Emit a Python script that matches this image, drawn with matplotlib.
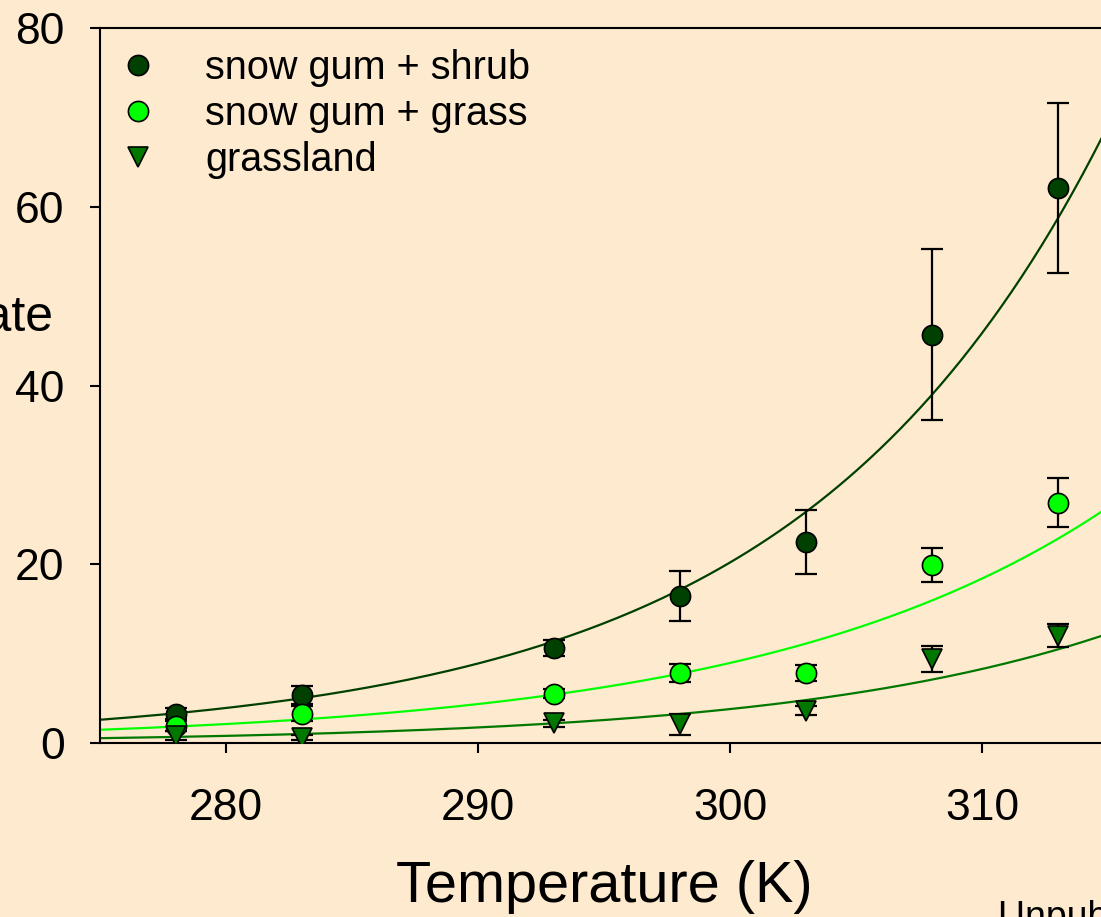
import numpy as np
import matplotlib
matplotlib.use("Agg")
import matplotlib.pyplot as plt
from matplotlib.lines import Line2D

plt.rcParams['font.family'] = ['Liberation Sans', 'DejaVu Sans']

# dados
temperatura = [278, 283, 293, 298, 303, 308, 313]

shrub = [3.3, 5.4, 10.6, 16.5, 22.5, 45.7, 62.1]
shrub_err = [0.6, 1.0, 0.9, 2.8, 3.6, 9.6, 9.5]

grass = [1.9, 3.3, 5.5, 7.8, 7.8, 19.9, 26.9]
grass_err = [0.6, 0.8, 0.5, 1.0, 0.9, 1.9, 2.7]

grassland = [0.8, 0.6, 2.2, 2.1, 3.6, 9.4, 12.0]
grassland_err = [0.5, 0.3, 0.4, 1.2, 0.5, 1.5, 1.3]

# parâmetros dos ajustes exponenciais y = a * exp(b * (T - 275))
ajuste_shrub = (2.6, 0.082)
ajuste_grass = (1.48, 0.072)
ajuste_grassland = (0.54, 0.078)

nomes = ["snow gum + shrub", "snow gum + grass", "grassland"]

# cores
fundo = "#FEEACE"
verde_escuro = "#004000"
verde_claro = "#00FF00"
verde = "#007800"

ms = 14.5

fig = plt.figure(figsize=(11.01, 9.17), dpi=100, facecolor=fundo)
ax = fig.add_axes([100 / 1101, 1 - 743 / 917, 1008 / 1101, 715 / 917])
ax.set_facecolor(fundo)

T = np.linspace(275, 315, 200)
series = [
    (shrub, shrub_err, ajuste_shrub, verde_escuro, verde_escuro, "o"),
    (grass, grass_err, ajuste_grass, verde_claro, verde_claro, "o"),
    (grassland, grassland_err, ajuste_grassland, verde, verde, "v"),
]

for y, err, (a, b), cor_ponto, cor_linha, marca in series:
    ax.plot(T, a * np.exp(b * (T - 275)), color=cor_linha, lw=1.6, zorder=2)
    ax.errorbar(temperatura, y, yerr=err, fmt="none", ecolor="black",
                elinewidth=1.6, capsize=8, capthick=1.6, zorder=3)
    ax.plot(temperatura, y, linestyle="none", marker=marca, ms=ms,
            markerfacecolor=cor_ponto, markeredgecolor="black",
            markeredgewidth=1.2, zorder=4)

ax.set_xlim(275, 315)
ax.set_ylim(0, 80)
ax.set_xticks([280, 290, 300, 310])
ax.set_yticks([0, 20, 40, 60, 80])

for s in ax.spines.values():
    s.set_linewidth(1.5)
ax.tick_params(direction="out", length=7.5, width=1.5, labelsize=32)
ax.tick_params(axis="y", pad=18)
ax.tick_params(axis="x", pad=25)

ax.set_xlabel("Temperature (K)", fontsize=41.5)
ax.xaxis.set_label_coords(0.5, -0.163)

# rótulo do eixo y (cortado na imagem original)
fig.text(53 / 1101, 1 - 318 / 917, "Respiration rate", fontsize=36,
         ha="right", va="center")

fig.text(998 / 1101, -0.012, "Unpublished data", fontsize=27,
         ha="left", va="baseline")

handles = [
    Line2D([], [], linestyle="none", marker="o", ms=ms, markerfacecolor=verde_escuro,
           markeredgecolor="black", markeredgewidth=1.2),
    Line2D([], [], linestyle="none", marker="o", ms=ms, markerfacecolor=verde_claro,
           markeredgecolor="black", markeredgewidth=1.2),
    Line2D([], [], linestyle="none", marker="v", ms=ms, markerfacecolor=verde,
           markeredgecolor="black", markeredgewidth=1.2),
]
ax.legend(handles, nomes, loc="upper left", frameon=False, fontsize=28.5,
          handlelength=1.0, handletextpad=1.2, labelspacing=0.2,
          borderaxespad=0.0, borderpad=0.3,
          bbox_to_anchor=(0.006, 0.987))

fig.savefig("out.png", dpi=100, facecolor=fundo)
